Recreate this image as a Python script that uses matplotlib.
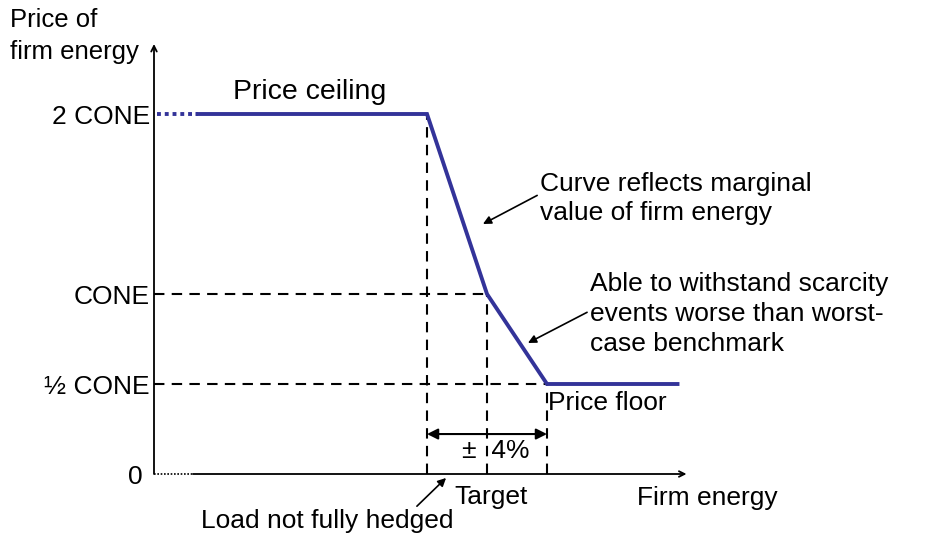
import matplotlib.pyplot as plt

plt.rcParams['font.family'] = ['Liberation Sans', 'DejaVu Sans']

# data: x in % of target firm energy, y in multiples of CONE
curve_x = [80.7, 96, 100, 104, 112.7]
curve_y = [2, 2, 1, 0.5, 0.5]
ceiling_start = 78.0
axis_x0 = 77.8
axis_x1 = 113.3
axis_y1 = 2.389
x_marks = [96, 100, 104]
y_marks = [2, 1, 0.5]
ytick_vals = [0, 0.5, 1, 2]
ytick_labels = ['0 ', '½ CONE', 'CONE', '2 CONE']

blue = '#333399'
fs = 19
dash = (0, (5, 3.5))

fig = plt.figure(figsize=(9.29, 5.34), dpi=100)
ax = fig.add_axes([154 / 929, 60 / 534, 534 / 929, 430 / 534])
ax.set_xlim(axis_x0, axis_x0 + 534 / 15)
ax.set_ylim(0, 430 / 180)
for s in ax.spines.values():
    s.set_visible(False)
ax.set_xticks([])
ax.set_yticks(ytick_vals, ytick_labels, fontsize=fs)
ax.tick_params(axis='y', length=0, pad=3)

# axes with arrow heads
ax.annotate('', xy=(axis_x0, axis_y1), xytext=(axis_x0, 0),
            arrowprops=dict(arrowstyle='->', lw=1.3, color='black', shrinkA=0, shrinkB=0,
                            mutation_scale=10), annotation_clip=False)
ax.plot([axis_x0, curve_x[0] - 0.3], [0, 0], color='black', lw=1.2, ls=(0, (1, 1)), clip_on=False)
ax.annotate('', xy=(axis_x1, 0), xytext=(curve_x[0] - 0.3, 0),
            arrowprops=dict(arrowstyle='->', lw=1.3, color='black', shrinkA=0, shrinkB=0,
                            mutation_scale=10), annotation_clip=False)

# dashed guides
for xm, ym in zip(x_marks, y_marks):
    ax.plot([xm, xm], [0, ym], color='black', lw=1.5, ls=dash, clip_on=False)
for ym, xm in zip([1, 0.5], [100, 104]):
    ax.plot([axis_x0, xm], [ym, ym], color='black', lw=1.5, ls=dash, clip_on=False)

# demand curve
ax.plot([ceiling_start, curve_x[0]], [2, 2], color=blue, lw=2.8, ls=(0, (1, 1)), clip_on=False)
ax.plot(curve_x, curve_y, color=blue, lw=2.8, solid_joinstyle='miter', clip_on=False)

# +/- 4% range arrow
ax.annotate('', xy=(96, 0.222), xytext=(104, 0.222),
            arrowprops=dict(arrowstyle='<|-|>', lw=1.5, color='black', shrinkA=0, shrinkB=0,
                            mutation_scale=16), annotation_clip=False)
ax.text(100.6, 0.128, '±  4%', fontsize=fs, ha='center', va='center')

# labels
ax.text(83.07, 2.122, 'Price ceiling', fontsize=20.5, ha='left', va='center')
ax.text(104.07, 0.394, 'Price floor', fontsize=fs, ha='left', va='center')
ax.text(100.27, -0.128, 'Target', fontsize=fs, ha='center', va='center', clip_on=False)
ax.text(110.0, -0.133, 'Firm energy', fontsize=fs, ha='left', va='center', clip_on=False)
fig.text(10 / 929, 1 - 36 / 534, 'Price of\nfirm energy', fontsize=18.5, ha='left', va='center',
         linespacing=1.45)

arrow_kw = dict(arrowstyle='-|>', lw=1.2, color='black', shrinkA=0, shrinkB=0,
                mutation_scale=12)
ax.annotate('Curve reflects marginal\nvalue of firm energy', xy=(99.73, 1.389),
            xytext=(103.53, 1.53), fontsize=fs, ha='left', va='center', linespacing=1.3,
            arrowprops=dict(arrow_kw, relpos=(-0.01, 0.56)),
            annotation_clip=False)
ax.annotate('Able to withstand scarcity\nevents worse than worst-\ncase benchmark',
            xy=(102.73, 0.728), xytext=(106.87, 0.889), fontsize=fs, ha='left', va='center',
            linespacing=1.3,
            arrowprops=dict(arrow_kw, relpos=(-0.01, 0.52)),
            annotation_clip=False)
ax.annotate('Load not fully hedged', xy=(97.27, -0.022), xytext=(89.33, -0.261),
            fontsize=fs, ha='center', va='center',
            arrowprops=dict(arrow_kw, relpos=(0.84, 0.95)),
            annotation_clip=False)

fig.savefig('out.png', dpi=100)
